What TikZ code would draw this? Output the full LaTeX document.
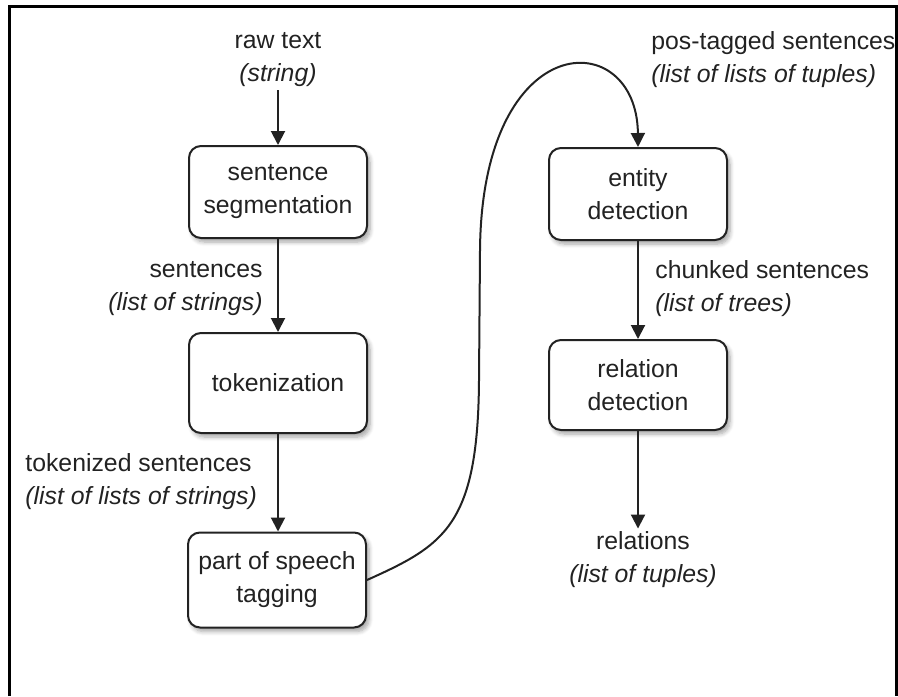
\documentclass[tikz,border=0pt]{standalone}
\usepackage{fontspec}
\setmainfont{Liberation Sans}
\usetikzlibrary{
    arrows.meta,
    positioning,
    shadows.blur
}
\definecolor{inkgray}{RGB}{34, 34, 34}

\begin{document}
\begin{tikzpicture}[
        x=0.5pt, y=-0.5pt,
        every node/.style={font=\fontsize{12.4}{16.5}\selectfont, text=inkgray},
        stagebox/.style={draw=inkgray, line width=1pt, rounded corners=6pt, fill=white,
            minimum width=89pt, minimum height=46pt, align=center,
            blur shadow={shadow xshift=1.5pt, shadow yshift=-2pt, shadow blur steps=6, shadow opacity=35}},
        datalabel/.style={inner sep=1.5pt},
        arrow/.style={-{Triangle[length=7pt, width=7pt]}, line width=1pt, draw=inkgray}
    ]
        \useasboundingbox (0,0) rectangle (898,696);

        % Frame
        \draw[line width=1.5pt] (9,696) -- (9,6) -- (896,6) -- (896,696);

        % Left column
        \node[datalabel, align=center] (raw) at (278, 60) {raw text\\\textit{(string)}};
        \node[stagebox] (seg) at (278, 192) {sentence\\segmentation};
        \node[stagebox, minimum height=50pt] (tok) at (278, 383) {tokenization};
        \node[stagebox, minimum height=47.5pt] (pos) at (277, 580) {part of speech\\tagging};

        % Right column
        \node[stagebox] (ent) at (638, 194) {entity\\detection};
        \node[stagebox, minimum height=45pt] (rel) at (638, 385) {relation\\detection};
        \node[datalabel, align=center] (relations) at (643, 560) {relations\\\textit{(list of tuples)}};

        % Data labels beside the arrows
        \node[datalabel, align=right, anchor=east] (sents) at (266, 289) {sentences\\\textit{(list of strings)}};
        \node[datalabel, align=left, anchor=west] (toks) at (22, 482) {tokenized sentences\\\textit{(list of lists of strings)}};
        \node[datalabel, align=left, anchor=west] (tagged) at (648, 60) {pos-tagged sentences\\\textit{(list of lists of tuples)}};
        \node[datalabel, align=left, anchor=west] (chunked) at (652, 289) {chunked sentences\\\textit{(list of trees)}};

        % Arrows
        \draw[arrow] (raw) -- (seg);
        \draw[arrow] (seg) -- (tok);
        \draw[arrow] (tok.south) -- (tok.south |- pos.north);
        \draw[arrow] (pos.east) .. controls (445, 545) and (478, 525) .. (479, 380)
            -- (480, 250) .. controls (482, 25) and (637, 25) .. (ent.north);
        \draw[arrow] (ent) -- (rel);
        \draw[arrow] (rel.south) -- (rel.south |- relations.north);
    \end{tikzpicture}
\end{document}
